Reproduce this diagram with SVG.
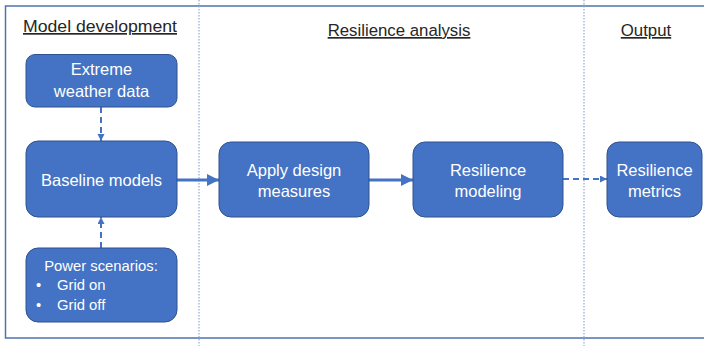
<svg xmlns="http://www.w3.org/2000/svg" width="704" height="346" viewBox="0 0 704 346">
<style>
.box{fill:#4472C4;stroke:#2F528F;stroke-width:1}
.t{font-family:"Liberation Sans",Arial,sans-serif;font-size:16.5px;fill:#FFFFFF;text-anchor:middle}
.ts{font-family:"Liberation Sans",Arial,sans-serif;font-size:14.8px;fill:#FFFFFF}
.h{font-family:"Liberation Sans",Arial,sans-serif;font-size:16.8px;fill:#262626;text-anchor:middle;text-decoration:underline}
.sep{stroke:#8FAADC;stroke-width:1.2;stroke-dasharray:1.5 1.5;fill:none}
.solid{stroke:#4472C4;stroke-width:3;fill:none}
.dash{stroke:#4472C4;stroke-width:2;stroke-dasharray:6 4;fill:none}
</style>
<defs>
<marker id="big" markerUnits="userSpaceOnUse" markerWidth="14" markerHeight="14" refX="12" refY="6" orient="auto">
<path d="M0,0 L12,6 L0,12 Z" fill="#4472C4"/>
</marker>
<marker id="small" markerUnits="userSpaceOnUse" markerWidth="10" markerHeight="10" refX="7" refY="3.5" orient="auto">
<path d="M0,0 L7,3.5 L0,7 Z" fill="#4472C4"/>
</marker>
</defs>
<rect width="704" height="346" fill="#FFFFFF"/>
<path d="M710,6 H5.5 V338 H710" fill="none" stroke="#4F73AE" stroke-width="1.5"/>
<line class="sep" x1="199" y1="0" x2="199" y2="346"/>
<line class="sep" x1="584" y1="0" x2="584" y2="346"/>
<g id="headings">
<text class="h" x="100" y="32" textLength="154" lengthAdjust="spacingAndGlyphs">Model development</text>
<text class="h" x="399" y="36">Resilience analysis</text>
<text class="h" x="646" y="36">Output</text>
</g>
<g id="connectors">
<line class="solid" x1="177" y1="180" x2="219" y2="180" marker-end="url(#big)"/>
<line class="solid" x1="369" y1="180" x2="413" y2="180" marker-end="url(#big)"/>
<line class="dash" x1="563" y1="179" x2="607" y2="179" marker-end="url(#small)"/>
<line class="dash" x1="101" y1="107" x2="101" y2="141" marker-end="url(#small)"/>
<line class="dash" x1="101" y1="248" x2="101" y2="217" marker-end="url(#small)"/>
</g>
<g id="extreme">
<rect class="box" x="26" y="54.5" width="151" height="52.5" rx="9"/>
<text class="t" x="101.5" y="75">Extreme</text>
<text class="t" x="101.5" y="97">weather data</text>
</g>
<g id="baseline">
<rect class="box" x="26" y="141" width="151" height="76" rx="12"/>
<text class="t" x="101.5" y="186">Baseline models</text>
</g>
<g id="power">
<rect class="box" x="26" y="248" width="151" height="74" rx="12"/>
<text class="ts" x="101" y="271" text-anchor="middle">Power scenarios:</text>
<text class="ts" x="36" y="290">•</text>
<text class="ts" x="57" y="290">Grid on</text>
<text class="ts" x="36" y="310">•</text>
<text class="ts" x="57" y="310">Grid off</text>
</g>
<g id="apply">
<rect class="box" x="219" y="142" width="150" height="75" rx="12"/>
<text class="t" x="294" y="176">Apply design</text>
<text class="t" x="294" y="197">measures</text>
</g>
<g id="modeling">
<rect class="box" x="413" y="142" width="150" height="75" rx="12"/>
<text class="t" x="488" y="176">Resilience</text>
<text class="t" x="488" y="197">modeling</text>
</g>
<g id="metrics">
<rect class="box" x="607" y="142" width="95" height="75" rx="12"/>
<text class="t" x="654.5" y="176">Resilience</text>
<text class="t" x="654.5" y="197">metrics</text>
</g>
</svg>
